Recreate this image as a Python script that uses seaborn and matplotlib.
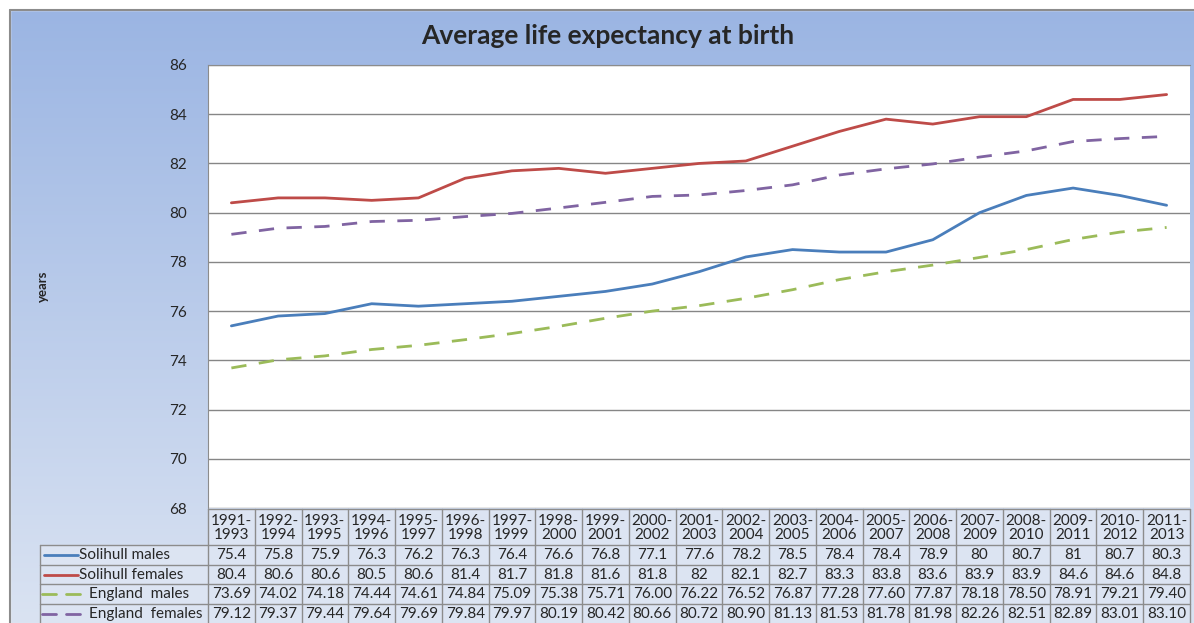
import numpy as np
import pandas as pd
import seaborn as sns
import matplotlib.pyplot as plt
from matplotlib.patches import Rectangle

periods = ["1991-\n1993", "1992-\n1994", "1993-\n1995", "1994-\n1996", "1995-\n1997",
           "1996-\n1998", "1997-\n1999", "1998-\n2000", "1999-\n2001", "2000-\n2002",
           "2001-\n2003", "2002-\n2004", "2003-\n2005", "2004-\n2006", "2005-\n2007",
           "2006-\n2008", "2007-\n2009", "2008-\n2010", "2009-\n2011", "2010-\n2012",
           "2011-\n2013"]
solihull_males = [75.4, 75.8, 75.9, 76.3, 76.2, 76.3, 76.4, 76.6, 76.8, 77.1, 77.6,
                  78.2, 78.5, 78.4, 78.4, 78.9, 80, 80.7, 81, 80.7, 80.3]
solihull_females = [80.4, 80.6, 80.6, 80.5, 80.6, 81.4, 81.7, 81.8, 81.6, 81.8, 82,
                    82.1, 82.7, 83.3, 83.8, 83.6, 83.9, 83.9, 84.6, 84.6, 84.8]
england_males = [73.69, 74.02, 74.18, 74.44, 74.61, 74.84, 75.09, 75.38, 75.71, 76.00,
                 76.22, 76.52, 76.87, 77.28, 77.60, 77.87, 78.18, 78.50, 78.91, 79.21, 79.40]
england_females = [79.12, 79.37, 79.44, 79.64, 79.69, 79.84, 79.97, 80.19, 80.42, 80.66,
                   80.72, 80.90, 81.13, 81.53, 81.78, 81.98, 82.26, 82.51, 82.89, 83.01, 83.10]

series_names = ["Solihull males", "Solihull females", "England  males", "England  females"]
series_vals = [solihull_males, solihull_females, england_males, england_females]
# England values are shown with two decimals in the table
series_fmt = ["{:g}", "{:g}", "{:.2f}", "{:.2f}"]
colors = {"Solihull males": "#4A7EBB", "Solihull females": "#BE4B48",
          "England  males": "#9BBB59", "England  females": "#8064A2"}
dashes = {"Solihull males": "", "Solihull females": "",
          "England  males": (5.5, 4.5), "England  females": (5.5, 4.5)}

n = len(periods)
long = pd.concat([pd.DataFrame({"idx": range(n), "value": v, "series": s})
                  for s, v in zip(series_names, series_vals)])

sns.set_style("white")
plt.rcParams["font.family"] = ["Lato", "DejaVu Sans"]

W, H = 1194, 623
fig = plt.figure(figsize=(W / 100, H / 100), dpi=100)

# gradient background + outer frame
bg = fig.add_axes([0, 0, 1, 1])
grad = np.linspace(0, 1, 256)[:, None]
top_c = np.array([0x9B, 0xB5, 0xE3]) / 255
bot_c = np.array([0xDA, 0xE3, 0xF2]) / 255
img = top_c * (1 - grad[..., None]) + bot_c * grad[..., None]
bg.imshow(img, aspect="auto", extent=[10, W, H, 10])
bg.set_xlim(0, W)
bg.set_ylim(H, 0)
bg.add_patch(Rectangle((0, 0), W, 10, color="white", zorder=2))
bg.add_patch(Rectangle((0, 0), 10, H, color="white", zorder=2))
bg.plot([10, W], [10, 10], color="#8C8C8C", lw=1.5, zorder=3)
bg.plot([10, 10], [10, H], color="#8C8C8C", lw=1.5, zorder=3)
bg.axis("off")

def px(x0, y0, x1, y1):
    return [x0 / W, 1 - y1 / H, (x1 - x0) / W, (y1 - y0) / H]

ax = fig.add_axes(px(208, 65, 1190, 508))
ax.set_facecolor("white")
sns.lineplot(data=long, x="idx", y="value", hue="series", style="series",
             palette=colors, dashes=dashes, linewidth=2.0, legend=False, ax=ax)
ax.set_xlim(-0.5, n - 0.5)
ax.set_ylim(68, 86)
ax.set_yticks(range(68, 87, 2))
ax.tick_params(axis="y", labelsize=11, pad=15, length=0)
ax.set_xticks([])
ax.set_xlabel("")
ax.set_ylabel("")
ax.yaxis.grid(True, color="#868686", lw=1)
for side in ["top", "left"]:
    ax.spines[side].set_color("#8C8C8C")
ax.spines["right"].set_visible(False)
ax.spines["bottom"].set_visible(False)

fig.text(43 / W, 1 - 286 / H, "years", rotation=90, ha="center", va="center",
         fontsize=9.5, fontweight="bold")
fig.text(608 / W, 1 - 36 / H, "Average life expectancy at birth",
         ha="center", va="center", fontsize=19, fontweight="bold")

# data table below the plot
tb = fig.add_axes([0, 0, 1, 1], facecolor="none")
tb.set_xlim(0, W)
tb.set_ylim(H, 0)
tb.axis("off")
col_w = (1190 - 208) / n
grid_c = "#8C8C8C"
hdr_top, hdr_bot = 509, 545
row_h = 19.7
cell_c = "#DCE4F2"
fs = 11
tb.add_patch(Rectangle((208, hdr_top), 1190 - 208, H - hdr_top, color=cell_c, zorder=0))
tb.add_patch(Rectangle((40, hdr_bot), 168, H - hdr_bot, color=cell_c, zorder=0))
for i, p in enumerate(periods):
    xc = 208 + col_w * (i + 0.5)
    tb.text(xc, (hdr_top + hdr_bot) / 2 + 1, p, ha="center", va="center",
            fontsize=fs, linespacing=1.05)
for i in range(n + 1):
    x = 208 + col_w * i
    tb.plot([x, x], [hdr_top, H], color=grid_c, lw=1)
tb.plot([40, 40], [hdr_bot, H], color=grid_c, lw=1)
tb.plot([208, 1190], [hdr_top, hdr_top], color=grid_c, lw=1)
for r in range(len(series_names) + 1):
    y = hdr_bot + row_h * r
    tb.plot([40, 1190], [y, y], color=grid_c, lw=1)
for r, (name, vals, fmt) in enumerate(zip(series_names, series_vals, series_fmt)):
    yc = hdr_bot + row_h * (r + 0.5)
    if dashes[name] == "":
        tb.plot([44, 78], [yc, yc], color=colors[name], lw=2.0)
    else:
        tb.plot([42, 56], [yc, yc], color=colors[name], lw=2.0)
        tb.plot([66, 80], [yc, yc], color=colors[name], lw=2.0)
    tb.text(89 if dashes[name] else 79, yc, name, ha="left", va="center", fontsize=fs)
    for i, v in enumerate(vals):
        tb.text(208 + col_w * (i + 0.5), yc, fmt.format(v), ha="center",
                va="center", fontsize=fs)

fig.savefig("out.png", dpi=100)
